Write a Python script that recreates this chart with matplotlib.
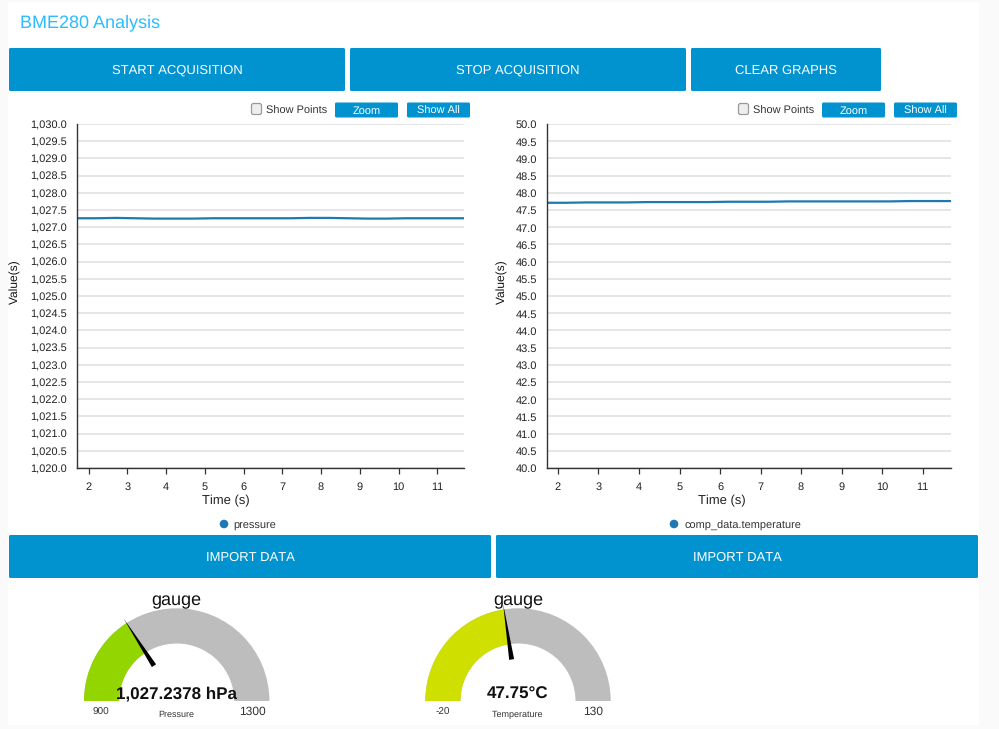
import matplotlib
matplotlib.use("Agg")
import numpy as np
import matplotlib.pyplot as plt
from matplotlib.patches import FancyBboxPatch, Rectangle, Wedge, Polygon, Circle
from matplotlib.ticker import FuncFormatter, MultipleLocator
from matplotlib.transforms import ScaledTranslation

plt.rcParams['font.family'] = ['Liberation Sans', 'DejaVu Sans']
plt.rcParams['text.hinting'] = 'no_hinting'
plt.rcParams['text.hinting_factor'] = 1

# ---- data ----
title = "BME280 Analysis"
top_buttons = ["START ACQUISITION", "STOP ACQUISITION", "CLEAR GRAPHS"]
import_label = "IMPORT DATA"
time_s = [1.7, 2.2, 2.7, 3.2, 3.7, 4.2, 4.7, 5.2, 5.7, 6.2, 6.7, 7.2, 7.7, 8.2, 8.7, 9.2, 9.7, 10.2, 10.7, 11.2, 11.7]
pressure = [1027.26, 1027.26, 1027.27, 1027.26, 1027.25, 1027.25, 1027.25, 1027.26, 1027.26, 1027.26,
            1027.26, 1027.26, 1027.27, 1027.27, 1027.26, 1027.25, 1027.25, 1027.26, 1027.26, 1027.26, 1027.26]
temperature = [47.71, 47.71, 47.72, 47.72, 47.72, 47.73, 47.73, 47.73, 47.73, 47.74,
               47.74, 47.74, 47.75, 47.75, 47.75, 47.75, 47.75, 47.75, 47.76, 47.76, 47.76]
series_names = ["pressure", "comp_data.temperature"]
gauge_titles = ["gauge", "gauge"]
gauge_labels = ["Pressure", "Temperature"]
gauge_values = [1027.2378, 47.75]
gauge_mins = [900, -20]
gauge_maxs = [1300, 130]
gauge_texts = ["1,027.2378 hPa", "47.75°C"]
gauge_colors = ["#93d500", "#cfe000"]

W, H = 999, 729
BLUE = "#0093d0"
LINE = "#1f77b4"
px = lambda s: s * 0.72

fig = plt.figure(figsize=(W / 100, H / 100), dpi=100, facecolor="#fafafa")
ov = fig.add_axes([0, 0, 1, 1], zorder=0)
ov.set_xlim(0, W)
ov.set_ylim(H, 0)
ov.axis("off")
ov.add_patch(Rectangle((8, 2), 971, 723, fc="white", ec="none"))


def button(x0, x1, y0, y1, text, size, base, r=1.5):
    ov.add_patch(FancyBboxPatch((x0 + r, y0 + r), x1 - x0 - 2 * r, y1 - y0 - 2 * r,
                                boxstyle=f"round,pad={r},rounding_size={r}", fc=BLUE, ec="none"))
    ov.text((x0 + x1) / 2, base, text, color="white", fontsize=px(size),
            ha="center", va="baseline")


ov.text(20, 27.5, title, color="#2bbcff", fontsize=px(17.9), ha="left", va="baseline")
for (a, b), t in zip([(9, 345), (350, 686), (691, 881)], top_buttons):
    button(a, b, 48, 91, t, 12.8, 73.7)
for (a, b) in [(9, 491), (496, 978)]:
    button(a, b, 535, 578, import_label, 12.8, 561)


def toolbar(cb_x, txt_x, zx, sx):
    ov.add_patch(FancyBboxPatch((cb_x + 2.5, 105.5), 6, 7, boxstyle="round,pad=2,rounding_size=2",
                                fc="#eeeeee", ec="#9a9a9a", lw=0.9))
    ov.text(txt_x, 114, "Show Points", fontsize=px(10.7), color="#333333", ha="left", va="baseline")
    button(zx, zx + 63, 102.5, 117.5, "Zoom", 11.3, 114)
    button(sx, sx + 63, 102.5, 117.5, "Show All", 11.3, 114)


toolbar(251, 266, 335, 407)
toolbar(738, 753, 822, 894)


def chart(x0, x1, xlim, ylim, ymajor, yvals, name, dot_x, txt_x, fmt, ylab_x, xlab_x):
    ax = fig.add_axes([x0 / W, 1 - 468 / H, (x1 - x0) / W, (468 - 124) / H], zorder=1)
    ax.patch.set_alpha(0)
    ax.plot(time_s, yvals, color=LINE, lw=1.6, solid_capstyle="butt")
    ax.set_xlim(*xlim)
    ax.set_ylim(*ylim)
    ax.yaxis.set_major_locator(MultipleLocator(ymajor))
    ax.xaxis.set_major_locator(MultipleLocator(1))
    ax.yaxis.set_major_formatter(FuncFormatter(fmt))
    ax.grid(axis="y", color="#dedede", lw=1.1)
    ax.set_axisbelow(True)
    for s in ("top", "right"):
        ax.spines[s].set_visible(False)
    for s in ("left", "bottom"):
        ax.spines[s].set_color("#333333")
        ax.spines[s].set_linewidth(1.0)
    ax.tick_params(axis="y", length=0, pad=7, labelsize=px(11.3), labelcolor="#222222")
    ax.tick_params(axis="x", length=4, width=0.9, color="#333333", pad=6,
                   labelsize=px(11.3), labelcolor="#222222")
    off = ScaledTranslation(0, -0.4 / 100, fig.dpi_scale_trans)
    for lab in ax.get_yticklabels():
        lab.set_transform(lab.get_transform() + off)
    ov.text(ylab_x, 282, "Value(s)", rotation=90, fontsize=px(12.2), color="#111111",
            ha="center", va="center")
    ov.text(xlab_x, 504.3, "Time (s)", fontsize=px(13), color="#222222", ha="center", va="baseline")
    ov.add_patch(Circle((dot_x, 524), 4.3, fc=LINE, ec="none"))
    ov.text(txt_x, 528.5, name, fontsize=px(10.7), color="#333333", ha="left", va="baseline")


chart(77, 464, (1.70, 11.69), (1020, 1030), 0.5, pressure, series_names[0], 224, 233.5,
      lambda v, p: f"{v:,.1f}", 15.7, 225.5)
chart(547, 951, (1.73, 11.70), (40, 50), 0.5, temperature, series_names[1], 674, 684.5,
      lambda v, p: f"{v:.1f}", 502.7, 722)


def gauge(cx, i):
    cy, R, r = 701, 92.7, 57.5
    frac = (gauge_values[i] - gauge_mins[i]) / (gauge_maxs[i] - gauge_mins[i])
    ang = 180 + 180 * frac  # inverted y axis: 180..360 runs over the top
    ov.add_patch(Wedge((cx, cy), R, 180, 360, width=R - r, fc="#bdbdbd", ec="none"))
    ov.add_patch(Wedge((cx, cy), R, 180, ang, width=R - r, fc=gauge_colors[i], ec="none"))
    t = np.deg2rad(ang)
    u = np.array([np.cos(t), np.sin(t)])
    n = np.array([-u[1], u[0]])
    c = np.array([cx, cy])
    ov.add_patch(Polygon([c + u * 42 + n * 2.5, c + u * 42 - n * 2.5, c + u * 98],
                         closed=True, fc="black", ec="none", zorder=3))
    ov.text(cx, 605, gauge_titles[i], fontsize=px(18), color="#111111", ha="center", va="baseline", zorder=4)
    ov.text(cx, 698.7, gauge_texts[i], fontsize=px(17.5), fontweight="bold", color="#111111",
            ha="center", va="baseline", zorder=4)
    ov.text(cx, 717.3, gauge_labels[i], fontsize=px(9.5), color="#333333", ha="center", va="baseline")
    ov.text(cx - 75.5, 715, str(gauge_mins[i]), fontsize=px(10), color="#333333", ha="center", va="baseline")
    ov.text(cx + 75.5, 715.3, str(gauge_maxs[i]), fontsize=px(12), color="#333333", ha="center", va="baseline")


gauge(176.7, 0)
gauge(518, 1)

fig.savefig("out.png", dpi=100, facecolor=fig.get_facecolor())
